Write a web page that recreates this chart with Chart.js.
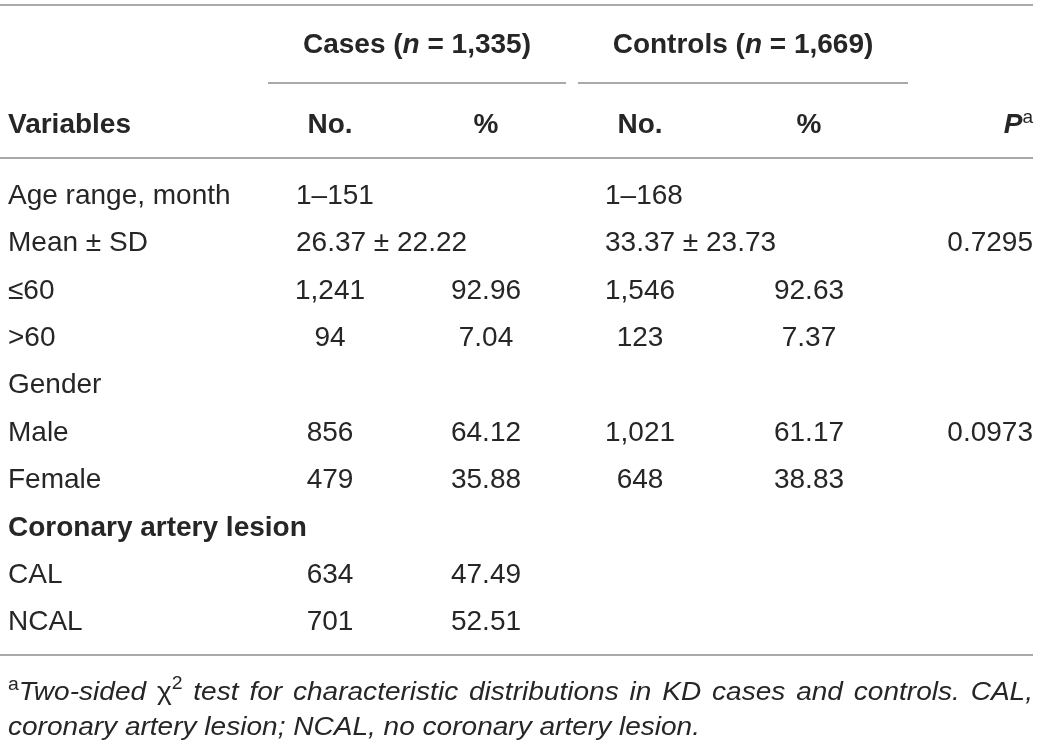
<!DOCTYPE html>
<html>
<head>
<meta charset="utf-8">
<script src="https://cdn.jsdelivr.net/npm/chart.js@4.4.1/dist/chart.umd.min.js"></script>
<style>
  html, body { margin: 0; padding: 0; background: #fff; }
  #wrap { width: 1040px; height: 747px; }
</style>
</head>
<body>
<div id="wrap"><canvas id="table1"></canvas></div>
<script>
// table content
var rowLabels = ["Age range, month", "Mean \u00b1 SD", "\u226460", ">60", "Gender", "Male", "Female", "Coronary artery lesion", "CAL", "NCAL"];
var boldRows = [false, false, false, false, false, false, false, true, false, false];
var casesSpan = ["1\u2013151", "26.37 \u00b1 22.22", null, null, null, null, null, null, null, null];
var controlsSpan = ["1\u2013168", "33.37 \u00b1 23.73", null, null, null, null, null, null, null, null];
var casesNo = [null, null, 1241, 94, null, 856, 479, null, 634, 701];
var casesPct = [null, null, 92.96, 7.04, null, 64.12, 35.88, null, 47.49, 52.51];
var controlsNo = [null, null, 1546, 123, null, 1021, 648, null, null, null];
var controlsPct = [null, null, 92.63, 7.37, null, 61.17, 38.83, null, null, null];
var pValues = [null, 0.7295, null, null, null, 0.0973, null, null, null, null];
var groupNames = ["Cases", "Controls"];
var groupSizes = [1335, 1669];
var subHeads = ["No.", "%", "No.", "%"];
var footLine1 = ["Two-sided ", "\u03c7", "2", " test for characteristic distributions in KD cases and controls. CAL,"];
var footLine2 = "coronary artery lesion; NCAL, no coronary artery lesion.";

// layout
var FONT = "'Liberation Sans', Arial, sans-serif";
var INK = "#262626";
var RULE = "#8c8c8c";
var leftX = 8, rightX = 1033, foot2End = 700;
var colX = { casesNo: 330, casesPct: 486, controlsNo: 640, controlsPct: 809, casesSpan: 296, controlsSpan: 605 };
var groupLines = [[268, 566], [578, 908]];

function fmtInt(v) { return v.toLocaleString("en-US"); }

function makeSet(key, values, fmt, align) {
  var pts = [], texts = [];
  values.forEach(function (v, i) {
    if (v === null) return;
    pts.push({ x: colX[key], y: rowLabels[i] });
    texts.push(fmt(v));
  });
  return { label: key, data: pts, texts: texts, align: align, pointRadius: 0, showLine: false };
}

var datasets = [
  makeSet("casesSpan", casesSpan, function (v) { return v; }, "left"),
  makeSet("controlsSpan", controlsSpan, function (v) { return v; }, "left"),
  makeSet("casesNo", casesNo, fmtInt, "center"),
  makeSet("casesPct", casesPct, function (v) { return v.toFixed(2); }, "center"),
  makeSet("controlsNo", controlsNo, fmtInt, "center"),
  makeSet("controlsPct", controlsPct, function (v) { return v.toFixed(2); }, "center")
];
var pSet = makeSet("p", pValues, function (v) { return v.toFixed(4); }, "right");
pSet.data.forEach(function (d) { d.x = rightX; });
datasets.push(pSet);

function hline(ctx, x1, x2, y) {
  ctx.beginPath();
  ctx.moveTo(x1, y);
  ctx.lineTo(x2, y);
  ctx.stroke();
}

// draws a run of [text, font, dy] pieces, starting at x; gap = extra px per space
function drawRun(ctx, pieces, x, y, gap) {
  pieces.forEach(function (p) {
    ctx.font = p[1];
    if (gap) {
      p[0].split(/( )/).forEach(function (part) {
        ctx.fillText(part, x, y + (p[2] || 0));
        x += ctx.measureText(part).width + (part === " " ? gap : 0);
      });
    } else {
      ctx.fillText(p[0], x, y + (p[2] || 0));
      x += ctx.measureText(p[0]).width;
    }
  });
  return x;
}
function runWidth(ctx, pieces) {
  var w = 0;
  pieces.forEach(function (p) { ctx.font = p[1]; w += ctx.measureText(p[0]).width; });
  return w;
}

var tablePlugin = {
  id: "tableText",
  afterDatasetsDraw: function (chart) {
    var ctx = chart.ctx;
    var yScale = chart.scales.y;
    var area = chart.chartArea;
    ctx.save();
    ctx.textBaseline = "alphabetic";
    ctx.fillStyle = INK;

    // rules
    ctx.strokeStyle = RULE;
    ctx.lineWidth = 1.5;
    hline(ctx, 0, rightX, area.top - 165);
    groupLines.forEach(function (g) { hline(ctx, g[0], g[1], area.top - 87); });
    hline(ctx, 0, rightX, area.top - 12);
    hline(ctx, 0, rightX, area.bottom + 11);

    // group headers
    groupNames.forEach(function (name, i) {
      var pieces = [
        [name + " (", "bold 28px " + FONT],
        ["n", "italic bold 28px " + FONT],
        [" = " + fmtInt(groupSizes[i]) + ")", "bold 28px " + FONT]
      ];
      var cx = (groupLines[i][0] + groupLines[i][1]) / 2;
      drawRun(ctx, pieces, cx - runWidth(ctx, pieces) / 2, area.top - 117);
    });

    // column headers
    var headY = area.top - 37;
    ctx.font = "bold 28px " + FONT;
    ctx.textAlign = "left";
    ctx.fillText("Variables", leftX, headY);
    ctx.textAlign = "center";
    [colX.casesNo, colX.casesPct, colX.controlsNo, colX.controlsPct].forEach(function (x, i) {
      ctx.fillText(subHeads[i], x, headY);
    });
    ctx.textAlign = "left";
    var pPieces = [["P", "italic bold 28px " + FONT], ["a", "19px " + FONT, -10]];
    drawRun(ctx, pPieces, rightX - runWidth(ctx, pPieces), headY);

    // row labels
    rowLabels.forEach(function (lab, i) {
      ctx.font = (boldRows[i] ? "bold " : "") + "28px " + FONT;
      ctx.textAlign = "left";
      ctx.fillText(lab, leftX, yScale.getPixelForValue(i) + 10);
    });

    // cells
    ctx.font = "28px " + FONT;
    chart.data.datasets.forEach(function (ds, di) {
      var meta = chart.getDatasetMeta(di);
      ctx.textAlign = ds.align;
      meta.data.forEach(function (el, j) {
        ctx.fillText(ds.texts[j], el.x, el.y + 10);
      });
    });

    // footnote: condensed italic, first line justified
    ctx.textAlign = "left";
    var f2 = [[footLine2, "italic 26px " + FONT]];
    var s = (foot2End - leftX) / runWidth(ctx, f2);
    var f1 = [
      ["a", "18px " + FONT, -10],
      [footLine1[0], "italic 26px " + FONT],
      [footLine1[1], "26px " + FONT],
      [footLine1[2], "18px " + FONT, -11],
      [footLine1[3], "italic 26px " + FONT]
    ];
    var spaces = (footLine1.join("").match(/ /g) || []).length;
    var gap = ((rightX - leftX) / s - runWidth(ctx, f1)) / spaces;
    ctx.save();
    ctx.translate(leftX, area.bottom + 56);
    ctx.scale(s, 1);
    drawRun(ctx, f1, 0, 0, Math.max(gap, 0));
    ctx.restore();
    ctx.save();
    ctx.translate(leftX, area.bottom + 91);
    ctx.scale(s, 1);
    drawRun(ctx, f2, 0, 0);
    ctx.restore();

    ctx.restore();
  }
};

new Chart(document.getElementById("table1").getContext("2d"), {
  type: "scatter",
  data: { datasets: datasets },
  options: {
    responsive: true,
    maintainAspectRatio: false,
    animation: false,
    events: [],
    layout: { padding: { top: 170, bottom: 103, left: 0, right: 0 } },
    scales: {
      x: { type: "linear", min: 0, max: 1040, display: false },
      y: { type: "category", labels: rowLabels, offset: true, display: false }
    },
    plugins: { legend: { display: false }, tooltip: { enabled: false } }
  },
  plugins: [tablePlugin]
});
</script>
</body>
</html>
